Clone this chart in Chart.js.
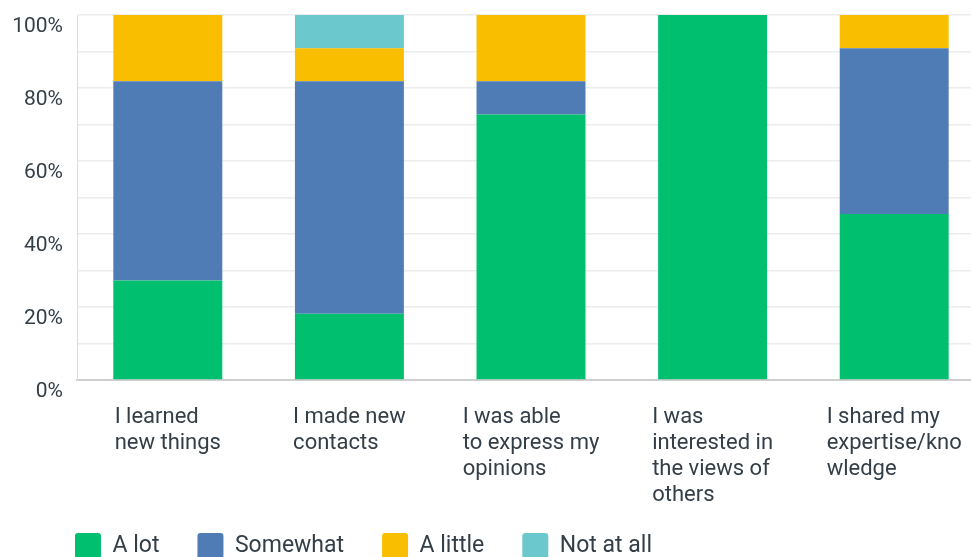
<!DOCTYPE html>
<html><head><meta charset="utf-8">
<script src="https://cdn.jsdelivr.net/npm/chart.js@4.4.1/dist/chart.umd.min.js"></script>
<style>
html,body{margin:0;padding:0;background:#fff;overflow:hidden;width:971px;height:557px}
#wrap{position:absolute;left:0;top:0;width:985px;height:569px}
</style>
</head><body>
<div id="wrap"><canvas id="c" width="985" height="569"></canvas></div>
<script>
const categories = [
  ["I learned", "new things"],
  ["I made new", "contacts"],
  ["I was able", "to express my", "opinions"],
  ["I was", "interested in", "the views of", "others"],
  ["I shared my", "expertise/kno", "wledge"]
];
const seriesNames = ["A lot", "Somewhat", "A little", "Not at all"];
const aLot     = [27.27, 18.18, 72.73, 100, 45.45];
const somewhat = [54.55, 63.64,  9.09,   0, 45.45];
const aLittle  = [18.18,  9.09, 18.18,   0,  9.09];
const notAtAll = [ 0,     9.09,  0,      0,  0   ];
const yTickLabels = ["0%", "20%", "40%", "60%", "80%", "100%"];
const seriesColors = ["#00bf6f", "#507cb6", "#f9be00", "#6bc8cd"];

const TEXT = "#333e48";
const FONT = "Roboto";

const xLabelPlugin = {
  id: "xLabels",
  afterLayout(chart) {
    if (chart.legend) { chart.legend.left += 37; }
  },
  afterDraw(chart) {
    const xs = chart.scales.x;
    const ctx = chart.ctx;
    ctx.save();
    ctx.font = "22px " + FONT;
    ctx.fillStyle = TEXT;
    ctx.textAlign = "left";
    ctx.textBaseline = "middle";
    const top = chart.chartArea.bottom + 37;
    categories.forEach((lines, i) => {
      const w = Math.max(...lines.map(l => ctx.measureText(l).width));
      const left = xs.getPixelForTick(i) - w / 2;
      lines.forEach((l, j) => ctx.fillText(l, left, top + j * 26));
    });
    ctx.restore();
  }
};

const seriesData = [aLot, somewhat, aLittle, notAtAll];

new Chart(document.getElementById("c"), {
  type: "bar",
  data: {
    labels: categories,
    datasets: seriesNames.map((n, k) => ({
      label: n,
      data: seriesData[k],
      backgroundColor: seriesColors[k],
      borderWidth: 0,
      barPercentage: 0.6,
      categoryPercentage: 1.0
    }))
  },
  options: {
    responsive: false,
    animation: false,
    devicePixelRatio: 1,
    layout: { padding: { left: 0, top: 15, right: 0, bottom: 0 } },
    plugins: {
      tooltip: { enabled: false },
      legend: {
        position: "bottom",
        align: "start",
        labels: {
          boxWidth: 26, boxHeight: 26, padding: 38,
          useBorderRadius: true, borderRadius: 3,
          color: TEXT,
          font: { family: FONT, size: 23 }
        }
      }
    },
    scales: {
      x: {
        stacked: true,
        grid: { display: false },
        border: { color: "#cfcfcf", width: 2 },
        ticks: { color: "rgba(0,0,0,0)", font: { family: FONT, size: 20 } },
        afterFit(s) { s.height = 115; }
      },
      y: {
        stacked: true,
        min: 0, max: 100,
        grid: { color: "#ececec", lineWidth: 1.5, drawTicks: false },
        border: { color: "#dcdcdc", width: 1 },
        ticks: {
          stepSize: 10,
          autoSkip: false,
          padding: 14,
          labelOffset: 12,
          color: TEXT,
          font: { family: FONT, size: 21 },
          callback: (v) => (v % 20 === 0 ? yTickLabels[v / 20] : "")
        },
        afterFit(s) { s.width = 77; s.paddingTop = 0; s.paddingBottom = 0; }
      }
    }
  },
  plugins: [xLabelPlugin]
});
</script>
</body></html>
